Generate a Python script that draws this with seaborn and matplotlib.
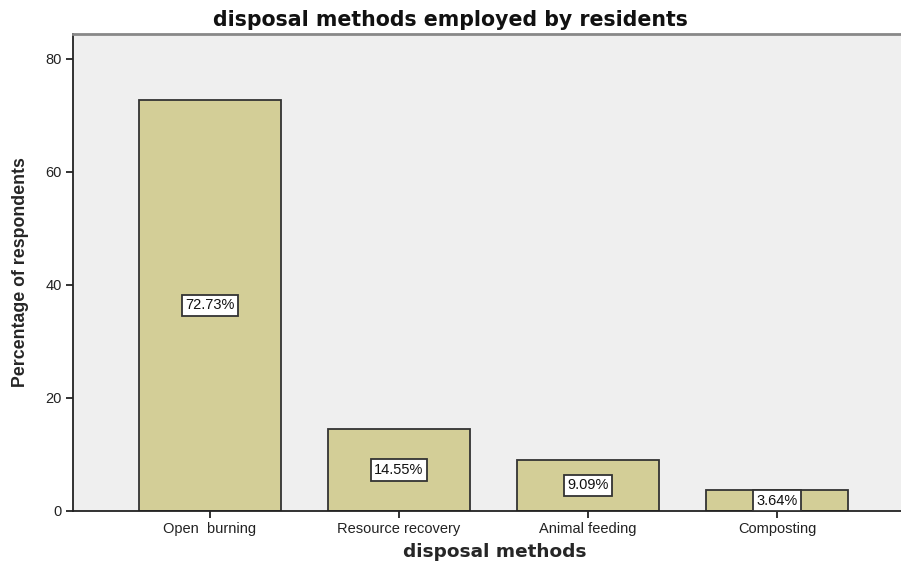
import matplotlib
matplotlib.use("Agg")
import matplotlib.pyplot as plt
import seaborn as sns
import pandas as pd

categories = ["Open  burning", "Resource recovery", "Animal feeding", "Composting"]
percentages = [72.73, 14.55, 9.09, 3.64]
yticks = [0, 20, 40, 60, 80]

df = pd.DataFrame({"method": categories, "pct": percentages})

sns.set_style("white")
plt.rcParams["font.family"] = ["Liberation Sans", "DejaVu Sans"]

fig = plt.figure(figsize=(9.01, 5.65), dpi=100)
ax = fig.add_axes([73 / 901, 54 / 565, 1 - 73 / 901, (511 - 34) / 565])
ax.set_facecolor("#EFEFEF")

sns.barplot(data=df, x="method", y="pct", ax=ax, color="#D3CE97",
            edgecolor="#333333", linewidth=1.3, width=0.75, saturation=1)

ax.set_xlim(-0.725, 3.656)
ax.set_ylim(0, 84.4)
ax.set_yticks(yticks)
ax.set_yticklabels([str(t) for t in yticks])

ax.spines["right"].set_visible(False)
ax.spines["top"].set_color("#888888")
ax.spines["top"].set_linewidth(2)
for sp in ["left", "bottom"]:
    ax.spines[sp].set_color("#222222")
    ax.spines[sp].set_linewidth(1.3)

ax.tick_params(axis="both", direction="out", length=5, width=1.3, color="#222222",
               labelsize=10.5, labelcolor="#222222", left=True, bottom=True, pad=3)

ax.set_xlabel("disposal methods", fontsize=13.3, fontweight="bold",
              family="DejaVu Sans")
ax.xaxis.set_label_coords((494.5 - 73) / 828, (511 - 552) / 477)
ax.xaxis.label.set_va("center")
ax.set_ylabel("Percentage of respondents", fontsize=12.8, fontweight="bold",
              family="Liberation Sans", labelpad=12)
fig.text(450 / 901, 1 - 20 / 565, "disposal methods employed by residents",
         fontsize=14.8, fontweight="bold", family="DejaVu Sans",
         ha="center", va="center", color="#111111")

container = ax.containers[0]
ax.bar_label(container, labels=[f"{v:.2f}%" for v in percentages],
             label_type="center", fontsize=10.5, color="#111111",
             bbox=dict(boxstyle="square,pad=0.25", facecolor="white",
                       edgecolor="#333333", linewidth=1.3))

fig.savefig("out.png", dpi=100)
